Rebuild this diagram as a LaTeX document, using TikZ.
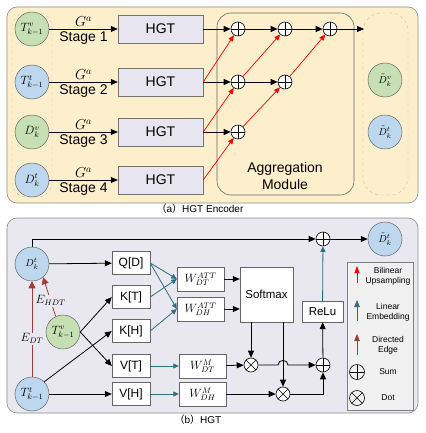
\documentclass[tikz,border=0pt]{standalone}
\usepackage{fontspec}
\setmainfont{Liberation Sans}
\newfontfamily\cjk{Noto Sans CJK SC}
\usetikzlibrary{arrows.meta,calc}
\definecolor{panelA}{HTML}{FDEFCB}
\definecolor{panelB}{HTML}{E9E7F0}
\definecolor{cgreen}{HTML}{C6E0B4}
\definecolor{cblue}{HTML}{BDD7EE}
\definecolor{hgtfill}{HTML}{E7E5EF}
\definecolor{tealc}{HTML}{2F6F7E}
\definecolor{dred}{HTML}{A23B32}
\definecolor{legfill}{HTML}{F0F0F0}
\tikzset{
  arr/.style={-{Triangle[length=7pt,width=6pt]}, line width=0.8pt},
  redarr/.style={red, line width=0.7pt, -{Triangle[length=6pt,width=5pt]}},
  tealarr/.style={tealc, line width=0.8pt, -{Triangle[length=5.5pt,width=5pt]}},
  dredarr/.style={dred, line width=0.8pt, -{Triangle[length=7pt,width=7pt]}},
  circ/.style={circle, draw=black!60, line width=0.5pt, minimum size=34pt, inner sep=0pt},
  gcirc/.style={circ, fill=cgreen},
  bcirc/.style={circ, fill=cblue},
  hgtbox/.style={draw=black!55, fill=hgtfill, minimum width=85pt, minimum height=28pt, inner sep=0pt, font=\fontsize{14}{16}\selectfont},
  kbox/.style={draw=black!60, fill=white, minimum width=38pt, minimum height=23pt, inner sep=0pt, font=\fontsize{12}{14}\selectfont},
  wbox/.style={draw=black!60, fill=white, minimum width=47pt, minimum height=24pt, inner sep=0pt, font=\large},
  sumnode/.style={circle, draw=black, line width=0.6pt, minimum size=14pt, inner sep=0pt, fill=white,
    path picture={\draw[line width=0.6pt] (path picture bounding box.north) -- (path picture bounding box.south) (path picture bounding box.west) -- (path picture bounding box.east);}},
  dotnode/.style={circle, draw=black, line width=0.6pt, minimum size=14pt, inner sep=0pt, fill=white,
    path picture={\draw[line width=0.6pt] (path picture bounding box.north west) -- (path picture bounding box.south east) (path picture bounding box.north east) -- (path picture bounding box.south west);}},
  legtext/.style={font=\fontsize{8.5}{10}\selectfont, align=center},
  elabel/.style={fill=panelB, inner sep=1pt, font=\large, text=black}
}
\begin{document}
\begin{tikzpicture}[x=1pt,y=-1pt]
\useasboundingbox (0,0) rectangle (425,433);

% ---------- (a) HGT Encoder ----------
\draw[black!45, line width=0.6pt, fill=panelA, rounded corners=10pt] (7,7) rectangle (418,203);
\draw[black!25, dashed, rounded corners=14pt] (12,13) rectangle (52,197);
\draw[black!25, dashed, rounded corners=18pt] (363,13) rectangle (408,195);
\draw[black!60, line width=0.6pt, rounded corners=14pt] (217,13) rectangle (354,195);
\node[font=\fontsize{14}{17}\selectfont, align=center] (agg) at (285,176) {Aggregation\\Module};

\node[gcirc, font=\large] (a1) at (32,29) {$T^{v}_{k-1}$};
\node[bcirc, font=\large] (a2) at (32,82) {$T^{t}_{k-1}$};
\node[gcirc, font=\large] (a3) at (32,132) {$D^{v}_{k}$};
\node[bcirc, font=\large] (a4) at (32,180) {$D^{t}_{k}$};

\node[hgtbox] (h1) at (160.5,29) {HGT};
\node[hgtbox] (h2) at (160.5,82) {HGT};
\node[hgtbox] (h3) at (160.5,132) {HGT};
\node[hgtbox] (h4) at (160.5,180) {HGT};

\foreach \i in {1,2,3,4}{
  \draw[arr] (a\i) -- node[above=-1.5pt, font=\Large]{$G^a$} node[below=-1pt, font=\fontsize{14}{16}\selectfont]{Stage \i} (h\i);
}

\node[sumnode] (s11) at (238,29) {};
\node[sumnode] (s12) at (285,29) {};
\node[sumnode] (s13) at (330,29) {};
\node[sumnode] (s21) at (238,82) {};
\node[sumnode] (s22) at (285,82) {};
\node[sumnode] (s31) at (238,132) {};
\coordinate (out1) at (364,29);

\draw[arr] (h1) -- (s11);
\draw[arr] (s11) -- (s12);
\draw[arr] (s12) -- (s13);
\draw[arr] (s13) -- (out1);
\draw[arr] (h2) -- (s21);
\draw[arr] (s21) -- (s22);
\draw[arr] (h3) -- (s31);

\draw[redarr] (h2.east) -- (s11);
\draw[redarr] (s21) -- (s12);
\draw[redarr] (s22) -- (s13);
\draw[redarr] (h3.east) -- (s21);
\draw[redarr] (s31) -- (s22);
\draw[redarr] (h4.east) -- (s31);

\node[gcirc] (o1) at (385,80) {$\tilde{D}^{v}_{k}$};
\node[bcirc] (o2) at (385,132) {$\tilde{D}^{t}_{k}$};

\node[font=\fontsize{10}{12}\selectfont] (capa) at (200,209) {{\cjk （}a{\cjk ）}HGT Encoder};

% ---------- (b) HGT ----------
\draw[black!45, line width=0.6pt, fill=panelB, rounded corners=10pt] (7,218) rectangle (418,413);

\node[bcirc, font=\normalsize] (dtk) at (32,264) {$D^{t}_{k}$};
\node[gcirc, font=\large] (tv) at (63,332) {$T^{v}_{k-1}$};
\node[bcirc, font=\large] (tt) at (32,394) {$T^{t}_{k-1}$};

\node[kbox] (qd) at (131,263) {Q[D]};
\node[kbox] (kt) at (131,297) {K[T]};
\node[kbox] (kh) at (131,331) {K[H]};
\node[kbox] (vt) at (131,366) {V[T]};
\node[kbox] (vh) at (131,394) {V[H]};

\node[wbox] (wad) at (200.5,279) {$W^{ATT}_{DT}$};
\node[wbox] (wah) at (200.5,309) {$W^{ATT}_{DH}$};
\node[wbox] (wmt) at (202.5,366) {$W^{M}_{DT}$};
\node[wbox] (wmh) at (202.5,394) {$W^{M}_{DH}$};

\node[draw=black!60, fill=white, minimum width=53pt, minimum height=55pt, inner sep=0pt, font=\fontsize{11.5}{14}\selectfont] (sm) at (266.5,294.5) {Softmax};
\node[draw=black!60, fill=white, minimum width=41pt, minimum height=21pt, inner sep=0pt, font=\fontsize{11.5}{14}\selectfont] (relu) at (322.5,311.5) {ReLu};

\node[dotnode] (d1) at (251,365) {};
\node[dotnode] (d2) at (283,394) {};
\node[sumnode] (sp) at (323,365) {};
\node[sumnode] (st) at (323,239) {};
\node[bcirc] (dtt) at (385,239) {$\tilde{D}^{t}_{k}$};

% black connectors
\draw[arr] (dtk.north) |- (st);
\draw[arr] (st) -- (dtt);
\draw[arr] (dtk) -- (qd);
\draw[arr] (tv.east) -- (kt.west);
\draw[arr] (tv.east) -- (vt.west);
\draw[arr] (tt.north east) -- (kh.west);
\draw[arr] (tt) -- (vh);

% red directed edges
\draw[dredarr] (tt.north) -- node[pos=0.4, elabel]{$E_{DT}$} (dtk.south);
\draw[dredarr] (tv.115) -- node[pos=0.4, elabel]{$E_{HDT}$} (dtk.-50);

% teal embeddings
\draw[tealarr] (qd.east) -- (wad.west);
\draw[tealarr] (qd.east) -- (wah.west);
\draw[tealarr] (kt.east) -- (wad.west);
\draw[tealarr] (kh.east) -- (wah.west);
\draw[tealarr] (vt) -- (wmt);
\draw[tealarr] (vh) -- (wmh);

% attention / softmax
\draw[arr] (wad.east) -- (wad.east -| sm.west);
\draw[arr] (wah.east) -- (wah.east -| sm.west);
\draw[arr] (d1 |- sm.south) -- (d1);
\draw[arr] (d2 |- sm.south) -- (d2);
\draw[arr] (wmt) -- (d1);
\draw[arr] (wmh) -- (d2);
\draw[arr] (d1.east) -- (278,365) .. controls (278,359) and (288,359) .. (288,365) -- (sp.west);
\draw[arr] (d2.east) -| (sp.south);
\draw[arr] (sp) -- (relu);
\draw[tealarr] (relu) -- (st);

\node[font=\fontsize{10}{12}\selectfont] (capb) at (198,420) {{\cjk （}b{\cjk ）}HGT};

% legend
\draw[black!50, line width=0.6pt, fill=legfill] (347,262) rectangle (413,410);
\coordinate (l1a) at (357,283); \coordinate (l1b) at (357,266);
\coordinate (l2a) at (357,321); \coordinate (l2b) at (357,300);
\coordinate (l3a) at (357,355); \coordinate (l3b) at (357,334);
\draw[redarr, line width=0.8pt, -{Triangle[length=7pt,width=5pt]}] (l1a) -- (l1b);
\draw[tealarr, -{Triangle[length=7pt,width=5.5pt]}] (l2a) -- (l2b);
\draw[dredarr, -{Triangle[length=7pt,width=5.5pt]}] (l3a) -- (l3b);
\node[legtext] (t1) at (388,276) {Bilinear\\Upsampling};
\node[legtext] (t2) at (388,312) {Linear\\Embedding};
\node[legtext] (t3) at (388,345) {Directed\\Edge};
\node[sumnode, minimum size=15pt, fill=none] (lsum) at (357,372) {};
\node[dotnode, minimum size=15pt, fill=none] (ldot) at (357,398) {};
\node[legtext] (t4) at (388,372) {Sum};
\node[legtext] (t5) at (388,398) {Dot};
\end{tikzpicture}
\end{document}
